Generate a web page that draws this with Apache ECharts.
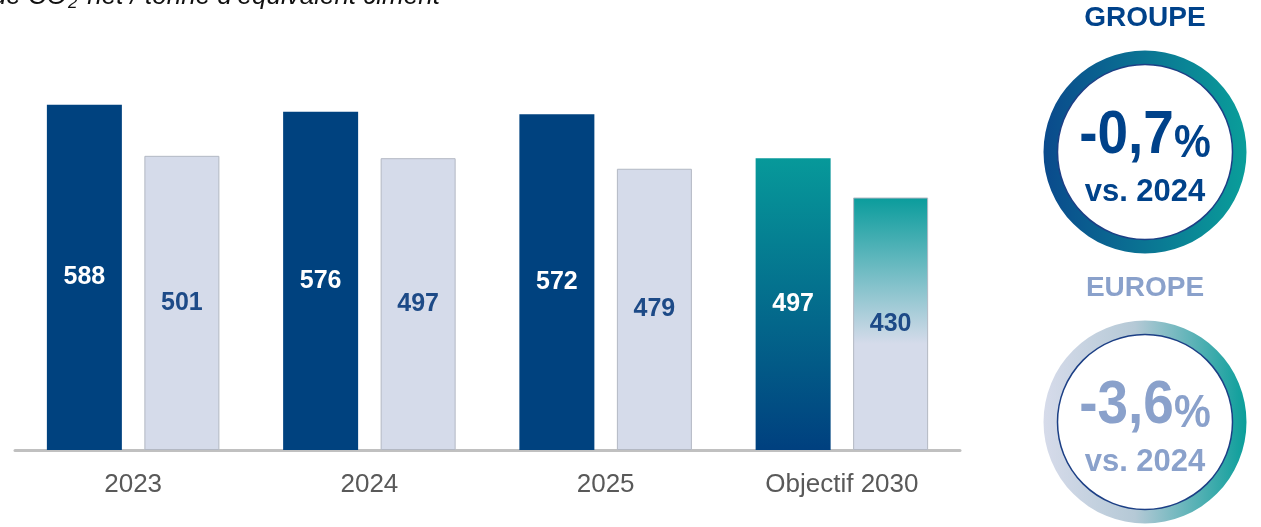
<!DOCTYPE html>
<html>
<head>
<meta charset="utf-8">
<script src="https://cdn.jsdelivr.net/npm/echarts@6/dist/echarts.min.js"></script>
<style>
  html, body { margin: 0; padding: 0; background: #fff; }
  #chart { width: 1261px; height: 527px; }
</style>
</head>
<body>
<div id="chart"></div>
<script>
// kg CO2 net / tonne équivalent ciment
const categories = ['2023', '2024', '2025', 'Objectif 2030']
const groupeValues = [588, 576, 572, 497]
const europeValues = [501, 497, 479, 430]

// pastilles de droite
const kpiTitles = ['GROUPE', 'EUROPE']
const kpiValues = ['-0,7', '-3,6']
const kpiRef = 'vs. 2024'

const FONT = '"Liberation Sans", Arial, sans-serif'
const DARK = '#00427f'
const LIGHT = '#d5dbea'
const TEAL = '#0a9c9c'
const LABEL_BLUE = '#1d4a87'
const EUROPE_TXT = '#8aa1cb'

const lastIdx = categories.length - 1

function vgrad(stops) {
  return new echarts.graphic.LinearGradient(0, 0, 0, 1, stops)
}

const groupeData = groupeValues.map((v, i) => {
  if (i !== lastIdx) return v
  return {
    value: v,
    itemStyle: { color: vgrad([{ offset: 0, color: '#07999a' }, { offset: 1, color: '#00407f' }]) }
  }
})
const europeData = europeValues.map((v, i) => {
  if (i !== lastIdx) return v
  return {
    value: v,
    itemStyle: {
      color: vgrad([
        { offset: 0, color: TEAL },
        { offset: 0.58, color: LIGHT },
        { offset: 1, color: LIGHT }
      ])
    }
  }
})

function kpiBadge(cx, cy, title, value, ringStops, txtColor) {
  return [
    {
      type: 'text',
      style: {
        x: cx, y: cy - 134, text: title,
        font: 'bold 28px ' + FONT, fill: txtColor,
        textAlign: 'center', textVerticalAlign: 'middle'
      }
    },
    {
      type: 'ring',
      shape: { cx: cx, cy: cy, r: 101.5, r0: 87.5 },
      style: { fill: new echarts.graphic.LinearGradient(0, 0, 1, 0, ringStops) }
    },
    {
      type: 'circle',
      shape: { cx: cx, cy: cy, r: 87.5 },
      style: { fill: '#fff', stroke: '#1c3f85', lineWidth: 1.5 }
    },
    {
      type: 'text',
      x: cx,
      y: cy - 15,
      scaleX: 0.9,
      style: {
        x: 0, y: 0,
        text: '{v|' + value + '}{p|%}',
        textAlign: 'center', textVerticalAlign: 'middle',
        rich: {
          v: { font: 'bold 61px ' + FONT, fill: txtColor, lineHeight: 60, verticalAlign: 'bottom' },
          p: { font: 'bold 46px ' + FONT, fill: txtColor, lineHeight: 50, verticalAlign: 'bottom' }
        }
      }
    },
    {
      type: 'text',
      style: {
        x: cx, y: cy + 40, text: kpiRef,
        font: 'bold 31px ' + FONT, fill: txtColor,
        textAlign: 'center', textVerticalAlign: 'middle'
      }
    }
  ]
}

const chart = echarts.init(document.getElementById('chart'), null, { renderer: 'canvas' })

const option = {
  animation: false,
  grid: {
    left: 15,
    right: 301,
    top: 39,
    bottom: 77
  },
  xAxis: {
    type: 'category',
    data: categories,
    axisTick: { show: false },
    axisLine: {
      lineStyle: { color: '#c0c0c0', width: 3 }
    },
    axisLabel: {
      color: '#595959',
      fontFamily: FONT,
      fontSize: 26,
      margin: 22
    }
  },
  yAxis: {
    type: 'value',
    min: 0,
    max: 700,
    show: false,
    splitLine: { show: false }
  },
  series: [
    {
      name: 'Groupe',
      type: 'bar',
      barWidth: 75,
      barGap: '30%',
      data: groupeData,
      itemStyle: { color: DARK },
      label: {
        show: true,
        position: 'inside',
        color: '#fff',
        fontFamily: FONT,
        fontWeight: 'bold',
        fontSize: 25
      }
    },
    {
      name: 'Europe',
      type: 'bar',
      barWidth: 75,
      data: europeData,
      itemStyle: { color: LIGHT, borderColor: '#b3b8c3', borderWidth: 1 },
      label: {
        show: true,
        position: 'inside',
        color: LABEL_BLUE,
        fontFamily: FONT,
        fontWeight: 'bold',
        fontSize: 25
      }
    }
  ],
  graphic: [
    // titre coupé en haut
    {
      type: 'text',
      style: {
        x: 67, y: -3, text: 'de CO',
        font: 'italic 26px ' + FONT, fill: '#111',
        textAlign: 'right', textVerticalAlign: 'middle'
      }
    },
    {
      type: 'text',
      style: {
        x: 68, y: 3, text: '2',
        font: 'italic 17px ' + FONT, fill: '#111',
        textAlign: 'left', textVerticalAlign: 'middle'
      }
    },
    {
      type: 'text',
      style: {
        x: 80, y: -3, text: ' net / tonne d\u2019équivalent ciment',
        font: 'italic 26px ' + FONT, fill: '#111',
        textAlign: 'left', textVerticalAlign: 'middle'
      }
    },
    ...kpiBadge(1145, 152, kpiTitles[0], kpiValues[0],
      [{ offset: 0, color: '#0a4a8c' }, { offset: 1, color: '#0a9e9a' }], '#00428a'),
    ...kpiBadge(1145, 422, kpiTitles[1], kpiValues[1],
      [{ offset: 0, color: '#d6dbea' }, { offset: 0.45, color: '#b5c9d6' }, { offset: 1, color: '#0a9e9a' }], EUROPE_TXT)
  ]
}

chart.setOption(option)
window.addEventListener('resize', () => chart.resize())
</script>
</body>
</html>
